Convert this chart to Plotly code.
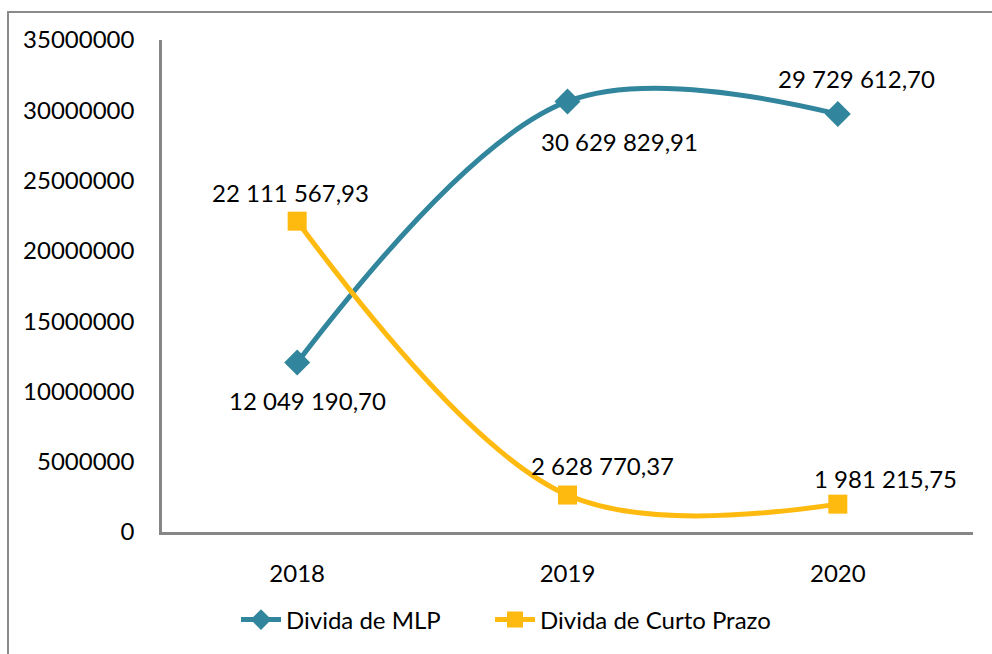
import plotly.graph_objects as go

# Dados da dívida por ano
anos = ["2018", "2019", "2020"]
divida_mlp = [12049190.70, 30629829.91, 29729612.70]
divida_curto = [22111567.93, 2628770.37, 1981215.75]
y_ticks = [0, 5000000, 10000000, 15000000, 20000000, 25000000, 30000000, 35000000]

COR_MLP = "#31859C"
COR_CURTO = "#FFBA0F"
FONTE = "Lato, Open Sans, sans-serif"
TAM = 24


def fmt_pt(v):
    """Número com espaço nos milhares e vírgula decimal."""
    s = f"{v:,.2f}"
    return s.replace(",", " ").replace(".", ",")


fig = go.Figure()
fig.add_trace(go.Scatter(
    x=anos, y=divida_mlp, name="Divida de MLP", mode="lines+markers",
    line=dict(color=COR_MLP, width=5, shape="spline", smoothing=1),
    marker=dict(symbol="diamond", size=20, color=COR_MLP),
    legend="legend",
))
fig.add_trace(go.Scatter(
    x=anos, y=divida_curto, name="Divida de Curto Prazo", mode="lines+markers",
    line=dict(color=COR_CURTO, width=5, shape="spline", smoothing=1),
    marker=dict(symbol="square", size=19, color=COR_CURTO),
    legend="legend2",
))

# Rótulos de valor (deslocamento em px relativo ao ponto; x pelo índice da categoria)
offsets_mlp = [(10, -38), (52, -40), (19, 36)]
offsets_curto = [(-7, 29), (35, 30), (48, 26)]
for serie, offs in ((divida_mlp, offsets_mlp), (divida_curto, offsets_curto)):
    for i, (v, (dx, dy)) in enumerate(zip(serie, offs)):
        fig.add_annotation(x=i, y=v, text=fmt_pt(v), showarrow=False,
                           xshift=dx, yshift=dy,
                           font=dict(family=FONTE, size=TAM, color="#000000"))

# Moldura exterior do gráfico
L, R, T, B = 162, 19, 40, 122
W, H = 992, 654
pw, ph = W - L - R, H - T - B
fig.add_shape(type="rect", xref="paper", yref="paper",
              x0=(8 - L) / pw, x1=(W + 4 - L) / pw,
              y0=(H - B - (H + 4)) / ph, y1=(H - B - 12) / ph,
              line=dict(color="#8A8A8A", width=2), fillcolor="rgba(0,0,0,0)",
              layer="below")

legenda = dict(orientation="h", xanchor="left",
               y=(H - B - 620) / ph, yanchor="middle",
               font=dict(family=FONTE, size=TAM), itemwidth=40,
               bgcolor="rgba(0,0,0,0)")

fig.update_layout(
    width=W, height=H,
    margin=dict(l=L, r=R, t=T, b=B),
    paper_bgcolor="white", plot_bgcolor="white",
    font=dict(family=FONTE, size=TAM, color="#000000"),
    showlegend=True,
    legend=dict(legenda, x=(236 - L) / pw),
    legend2=dict(legenda, x=(490 - L) / pw),
    xaxis=dict(type="category", range=[-0.5, 2.5], showgrid=False,
               showline=True, linecolor="#868686", linewidth=2.5,
               ticks="outside", ticklen=18, tickcolor="rgba(0,0,0,0)",
               zeroline=False, fixedrange=True),
    yaxis=dict(range=[0, 35000000], tickvals=y_ticks,
               ticktext=[str(t) for t in y_ticks], showgrid=False,
               showline=True, linecolor="#868686", linewidth=2.5,
               ticks="outside", ticklen=20, tickcolor="rgba(0,0,0,0)",
               zeroline=False, fixedrange=True),
)

fig.write_html("out.html")
